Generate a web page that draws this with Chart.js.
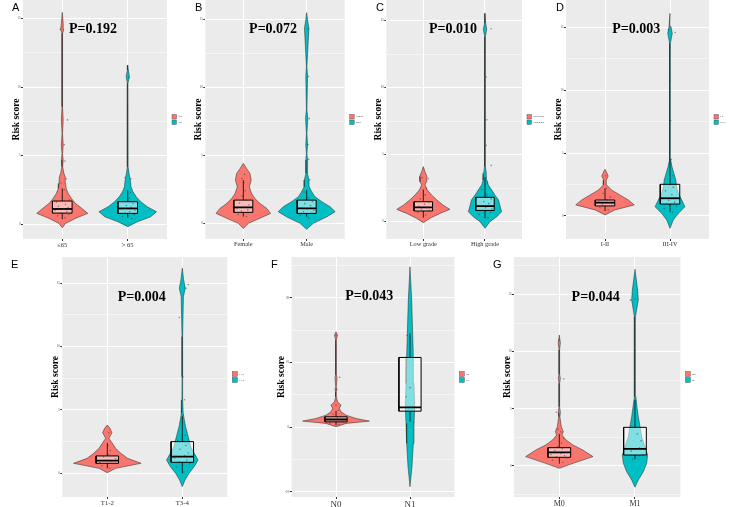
<!DOCTYPE html>
<html>
<head>
<meta charset="utf-8">
<script src="https://cdn.jsdelivr.net/npm/chart.js@4.4.1/dist/chart.umd.min.js"></script>
<style>
body { margin: 0; background: #fff; width: 729px; height: 507px; position: relative; overflow: hidden; }
canvas { position: absolute; }
.tag { position: absolute; font-family: "Liberation Sans", Arial, sans-serif; font-size: 11px; line-height: 11px; color: #000; }
</style>
</head>
<body>
<script>
// ---- data (violin half-widths are in x units) ----

// A: age
const aCats = ['≤65', '> 65'];
const aLegend = ['≤65', '>65'];
const aTicks = [0, 5, 10, 15];
const aP = 'P=0.192';
const aRedY = [-0.27, 0.05, 0.41, 0.78, 1.14, 1.51, 1.87, 2.24, 2.6, 2.97, 3.45, 3.7, 4.18, 4.67, 5.15, 5.77, 6.62, 7.59, 8.56, 13.92, 14.21, 14.65, 15.45];
const aRedW = [0, 0.05, 0.2, 0.39, 0.3, 0.2, 0.14, 0.09, 0.06, 0.05, 0.045, 0.025, 0.006, 0.014, 0.004, 0.014, 0.004, 0.014, 0.004, 0.004, 0.025, 0.014, 0];
const aTealY = [-0.19, 0.17, 0.53, 0.9, 1.26, 1.63, 1.99, 2.36, 2.72, 3.21, 3.7, 4.18, 10.27, 10.75, 11.24, 11.6];
const aTealW = [0, 0.15, 0.35, 0.44, 0.3, 0.2, 0.13, 0.08, 0.05, 0.04, 0.02, 0.006, 0.004, 0.025, 0.01, 0];
const aRedBox = [0.35, 0.8, 1.1, 1.68, 2.6];   // lo, q1, median, q3, hi
const aTealBox = [0.45, 0.78, 1.14, 1.63, 2.48];
const aRedPtY = [0.45, 0.6, 0.72, 0.8, 0.92, 1.0, 1.08, 1.2, 1.3, 1.45, 1.6, 1.75, 2.0, 2.5, 3.0, 3.3, 4.6, 5.8, 7.6, 14.2];
const aRedPtX = [0.04, -0.07, 0.1, -0.03, 0.07, -0.11, 0.02, 0.09, -0.06, 0.05, -0.09, 0.11, 0.0, 0.03, -0.02, 0.06, 0.04, 0.03, 0.08, -0.03];
const aTealPtY = [0.4, 0.55, 0.7, 0.8, 0.9, 1.0, 1.1, 1.22, 1.35, 1.5, 1.65, 1.9, 2.3, 3.3, 3.4, 10.7];
const aTealPtX = [0.06, -0.08, 0.1, -0.04, 0.03, 0.11, -0.1, 0.05, -0.02, 0.08, -0.06, 0.02, 0.04, 0.05, -0.04, 0.02];

// B: gender
const bCats = ['Female', 'Male'];
const bTicks = [0, 5, 10, 15];
const bP = 'P=0.072';
const bRedY = [-0.37, 0.0, 0.37, 0.73, 1.1, 1.47, 1.84, 2.2, 2.69, 3.18, 3.67, 4.04, 4.41];
const bRedW = [0, 0.08, 0.26, 0.43, 0.37, 0.26, 0.18, 0.13, 0.095, 0.125, 0.105, 0.05, 0];
const bTealY = [-0.44, 0.0, 0.49, 0.86, 1.22, 1.59, 1.96, 2.33, 2.69, 3.18, 3.67, 4.65, 5.14, 5.76, 6.61, 7.72, 8.33, 10.8, 11.52, 14.34, 14.95, 15.49];
const bTealW = [0, 0.105, 0.32, 0.45, 0.37, 0.24, 0.13, 0.08, 0.04, 0.037, 0.012, 0.014, 0.004, 0.014, 0.004, 0.018, 0.004, 0.014, 0.004, 0.035, 0.014, 0];
const bRedBox = [0.49, 0.81, 1.17, 1.71, 3.18];
const bTealBox = [0.49, 0.73, 1.1, 1.71, 2.45];
const bRedPtY = [0.5, 0.65, 0.8, 0.9, 1.0, 1.1, 1.2, 1.35, 1.5, 1.7, 2.0, 2.4, 3.0, 3.3, 3.6];
const bRedPtX = [0.05, -0.08, 0.1, -0.03, 0.07, -0.1, 0.02, 0.09, -0.06, 0.04, -0.02, 0.03, 0.01, -0.02, 0.02];
const bTealPtY = [0.4, 0.6, 0.75, 0.85, 0.95, 1.05, 1.15, 1.3, 1.45, 1.6, 1.9, 2.3, 3.2, 4.7, 5.8, 7.7, 10.8, 14.3];
const bTealPtX = [0.03, -0.1, 0.08, -0.05, 0.11, 0.0, -0.08, 0.06, -0.03, 0.09, 0.02, -0.04, 0.05, 0.03, 0.02, 0.04, 0.03, 0.02];

// C: grade
const cCats = ['Low grade', 'High grade'];
const cTicks = [0, 5, 10, 15];
const cP = 'P=0.010';
const cRedY = [-0.07, 0.25, 0.62, 0.92, 1.24, 1.62, 1.99, 2.36, 2.74, 2.99, 3.36, 3.73, 4.11];
const cRedW = [0, 0.11, 0.27, 0.43, 0.32, 0.22, 0.135, 0.065, 0.027, 0.054, 0.06, 0.027, 0];
const cTealY = [-0.49, 0.0, 0.37, 0.75, 1.24, 1.62, 1.99, 2.36, 2.74, 3.11, 3.61, 4.11, 5.4, 5.72, 6.0, 7.3, 7.59, 7.9, 10.5, 10.82, 11.1, 13.81, 14.35, 14.8, 15.55];
const cTealW = [0, 0.08, 0.19, 0.27, 0.24, 0.22, 0.16, 0.11, 0.054, 0.032, 0.022, 0.006, 0.004, 0.014, 0.004, 0.004, 0.014, 0.004, 0.004, 0.014, 0.004, 0.004, 0.028, 0.012, 0];
const cRedBox = [0.3, 0.8, 1.07, 1.49, 2.4];
const cTealBox = [0.25, 0.84, 1.17, 1.82, 3.3];
const cRedPtY = [0.5, 0.7, 0.85, 0.95, 1.05, 1.15, 1.3, 1.45, 1.7, 2.0, 2.5, 3.2, 3.3];
const cRedPtX = [0.04, -0.09, 0.1, -0.03, 0.06, -0.07, 0.02, 0.09, -0.05, 0.03, 0.05, 0.08, -0.02];
const cTealPtY = [0.3, 0.55, 0.7, 0.85, 0.95, 1.05, 1.2, 1.35, 1.5, 1.7, 2.0, 2.4, 2.9, 3.3, 4.2, 5.7, 7.6, 10.8, 14.4];
const cTealPtX = [0.05, -0.1, 0.09, -0.04, 0.11, 0.01, -0.08, 0.06, -0.02, 0.1, 0.03, -0.05, 0.04, 0.02, 0.1, 0.02, 0.03, 0.02, 0.1];

// D: stage
const dCats = ['I-II', 'III-IV'];
const dTicks = [0, 5, 10, 15];
const dP = 'P=0.003';
const dRedY = [0.08, 0.48, 0.88, 1.27, 1.67, 2.07, 2.47, 2.86, 3.18, 3.52, 3.71];
const dRedW = [0, 0.15, 0.45, 0.36, 0.23, 0.1, 0.026, 0.02, 0.05, 0.02, 0];
const dTealY = [-0.98, -0.32, 0.21, 0.74, 1.27, 1.8, 2.33, 2.86, 3.39, 3.92, 4.46, 5.0, 7.3, 7.6, 7.9, 10.5, 10.8, 11.1, 13.74, 14.53, 15.06, 16.12];
const dTealW = [0, 0.05, 0.13, 0.23, 0.18, 0.13, 0.1, 0.09, 0.06, 0.03, 0.01, 0.004, 0.004, 0.014, 0.004, 0.004, 0.014, 0.004, 0.006, 0.035, 0.015, 0];
const dRedBox = [0.4, 0.8, 1.06, 1.27, 2.2];
const dTealBox = [0.3, 0.95, 1.41, 2.52, 4.5];
const dRedPtY = [0.5, 0.7, 0.85, 0.95, 1.05, 1.15, 1.3, 1.5, 1.8, 2.2, 3.2];
const dRedPtX = [0.05, -0.08, 0.1, -0.04, 0.07, -0.1, 0.03, 0.08, -0.03, 0.02, 0.01];
const dTealPtY = [0.3, 0.6, 0.8, 0.95, 1.1, 1.25, 1.45, 1.7, 2.0, 2.3, 2.7, 3.2, 4.5, 7.6, 10.8, 14.6, 14.8];
const dTealPtX = [0.04, -0.09, 0.1, -0.05, 0.07, -0.02, 0.11, 0.03, -0.07, 0.05, 0.0, 0.04, 0.02, 0.01, 0.0, 0.08, -0.02];

// E: T stage
const eCats = ['T1-2', 'T3-4'];
const eTicks = [0, 5, 10, 15];
const eP = 'P=0.004';
const eRedY = [0.05, 0.39, 0.79, 1.18, 1.58, 1.97, 2.37, 2.76, 3.21, 3.55, 3.81];
const eRedW = [0, 0.11, 0.45, 0.27, 0.18, 0.11, 0.067, 0.022, 0.062, 0.036, 0];
const eTealY = [-1.05, -0.53, 0.0, 0.53, 1.05, 1.58, 2.11, 2.63, 3.16, 3.68, 4.21, 4.74, 5.79, 7.63, 10.79, 13.95, 14.61, 15.27, 16.19];
const eTealW = [0, 0.036, 0.09, 0.16, 0.21, 0.16, 0.11, 0.09, 0.067, 0.044, 0.027, 0.012, 0.005, 0.004, 0.004, 0.015, 0.04, 0.018, 0];
const eRedBox = [0.4, 0.79, 1.0, 1.37, 2.4];
const eTealBox = [0.0, 0.87, 1.31, 2.5, 4.5];
const eRedPtY = [0.4, 0.6, 0.75, 0.85, 0.95, 1.05, 1.15, 1.3, 1.5, 1.8, 2.2, 3.2];
const eRedPtX = [0.03, -0.07, 0.09, -0.1, 0.05, -0.02, 0.11, -0.05, 0.02, 0.04, 0.01, 0.02];
const eTealPtY = [0.1, 0.5, 0.75, 0.9, 1.05, 1.2, 1.4, 1.6, 1.9, 2.2, 2.6, 3.0, 4.6, 5.8, 7.6, 12.3, 14.6, 14.9];
const eTealPtX = [0.02, -0.08, 0.1, -0.04, 0.06, -0.1, 0.03, 0.08, -0.03, 0.05, -0.06, 0.04, 0.01, 0.03, 0.01, -0.04, 0.05, 0.08];

// F: N stage
const fCats = ['N0', 'N1'];
const fTicks = [-10, 0, 10, 20];
const fP = 'P=0.043';
const fRedY = [0.05, 0.57, 0.93, 1.34, 1.85, 2.37, 2.89, 3.4, 3.92, 4.69, 5.5, 5.83, 6.2, 7.68, 8.1, 13.45, 14.22, 14.73];
const fRedW = [0, 0.135, 0.45, 0.27, 0.135, 0.068, 0.045, 0.068, 0.02, 0.006, 0.004, 0.014, 0.004, 0.014, 0.004, 0.004, 0.02, 0];
const fTealY = [-9.22, -6.13, -2.52, 0.57, 3.14, 6.75, 10.87, 14.48, 19.63, 24.78];
const fTealW = [0, 0.027, 0.045, 0.054, 0.063, 0.054, 0.045, 0.036, 0.023, 0];
const fRedBox = [0.3, 0.82, 1.18, 1.6, 2.5];
const fTealBox = [0.9, 2.47, 3.04, 10.77, 14.5];
const fRedPtY = [0.4, 0.6, 0.8, 0.95, 1.1, 1.25, 1.4, 1.6, 2.0, 2.6, 3.4, 5.8, 7.7, 14.2];
const fRedPtX = [0.04, -0.08, 0.1, -0.03, 0.06, -0.1, 0.02, 0.08, -0.04, 0.03, 0.0, 0.0, 0.05, 0.0];
const fTealPtY = [0.7, 0.9, 4.7, 6.1, 14.2];
const fTealPtX = [0.05, 0.0, -0.05, 0.0, -0.04];

// G: M stage
const gCats = ['M0', 'M1'];
const gTicks = [0, 5, 10, 15];
const gP = 'P=0.044';
const gRedY = [-0.2, 0.23, 0.82, 1.4, 1.84, 2.27, 2.71, 3.0, 3.44, 4.31, 4.66, 5.19, 7.23, 7.66, 8.0, 10.14, 10.78, 11.45];
const gRedW = [0, 0.18, 0.445, 0.31, 0.18, 0.09, 0.035, 0.053, 0.026, 0.008, 0.014, 0.004, 0.004, 0.014, 0.004, 0.004, 0.014, 0];
const gTealY = [-1.86, -1.22, -0.5, 0.23, 0.96, 1.69, 2.56, 3.44, 4.31, 5.19, 6.06, 10.14, 13.05, 14.51, 15.38, 16.26, 17.19];
const gTealW = [0, 0.044, 0.11, 0.154, 0.167, 0.132, 0.088, 0.066, 0.044, 0.026, 0.012, 0.004, 0.008, 0.044, 0.035, 0.018, 0];
const gRedBox = [0.2, 0.76, 1.19, 1.6, 2.8];
const gTealBox = [0.6, 0.96, 1.49, 3.38, 5.77];
const gRedPtY = [0.3, 0.5, 0.7, 0.8, 0.9, 1.0, 1.1, 1.2, 1.35, 1.5, 1.7, 2.0, 2.4, 3.0, 3.2, 4.7, 7.6, 11.0];
const gRedPtX = [0.05, -0.09, 0.1, -0.04, 0.07, -0.11, 0.02, 0.09, -0.06, 0.04, -0.02, 0.03, 0.06, 0.02, -0.02, -0.04, 0.06, 0.0];
const gTealPtY = [0.6, 0.9, 1.0, 1.3, 1.6, 2.2, 2.8, 14.5, 14.6];
const gTealPtX = [-0.03, 0.05, 0.1, -0.05, 0.06, 0.08, 0.03, -0.06, 0.0];

// ---- drawing ----
const RED = '#F8766D';
const TEAL = '#00BFC4';
const BOXW = 0.15;

function violin(c, ys, ws) {
    const right = ys.map((y, i) => ({ x: c + ws[i], y: y }));
    const left = ys.map((y, i) => ({ x: c - ws[i], y: y })).reverse();
    return right.concat(left);
}

function boxShape(c, b) {
    return [
        { x: c - BOXW, y: b[1] }, { x: c + BOXW, y: b[1] },
        { x: c + BOXW, y: b[3] }, { x: c - BOXW, y: b[3] },
        { x: c - BOXW, y: b[1] }
    ];
}

const panelBg = {
    id: 'panelBg',
    beforeDraw(chart) {
        const { ctx, chartArea: a } = chart;
        ctx.save();
        ctx.fillStyle = '#EBEBEB';
        ctx.fillRect(a.left, a.top, a.width, a.height);
        ctx.restore();
    }
};

const sideLegend = {
    id: 'sideLegend',
    afterDraw(chart, args, o) {
        const { ctx, chartArea: a } = chart;
        const x = a.right + 5;
        const cy = (a.top + a.bottom) / 2;
        ctx.save();
        o.labels.forEach((lab, i) => {
            const y = cy - o.size - 0.5 + i * (o.size + 1);
            ctx.fillStyle = o.colors[i];
            ctx.fillRect(x, y, o.size, o.size);
            ctx.strokeStyle = '#444';
            ctx.lineWidth = 0.4;
            ctx.strokeRect(x, y, o.size, o.size);
            ctx.fillStyle = '#333';
            ctx.font = o.font + 'px "Liberation Serif"';
            ctx.textBaseline = 'middle';
            ctx.fillText(lab, x + o.size + 1.5, y + o.size / 2);
        });
        ctx.restore();
    }
};

const pText = {
    id: 'pText',
    afterDatasetsDraw(chart, args, o) {
        const { ctx, scales } = chart;
        ctx.save();
        ctx.font = 'bold 14px "Liberation Serif"';
        ctx.fillStyle = '#000';
        ctx.textAlign = 'center';
        ctx.textBaseline = 'middle';
        ctx.fillText(o.text, scales.x.getPixelForValue(o.x), scales.y.getPixelForValue(o.y));
        ctx.restore();
    }
};

function makePanel(p) {
    const cv = document.createElement('canvas');
    cv.width = p.w;
    cv.height = p.h;
    cv.style.left = p.left + 'px';
    cv.style.top = p.top + 'px';
    document.body.appendChild(cv);

    const tag = document.createElement('div');
    tag.className = 'tag';
    tag.textContent = p.letter;
    tag.style.left = p.tagX + 'px';
    tag.style.top = p.tagY + 'px';
    document.body.appendChild(tag);

    const datasets = [];
    [[1, p.red, RED], [2, p.teal, TEAL]].forEach(([c, g, col]) => {
        const b = g[2];
        datasets.push({ data: violin(c, g[0], g[1]), showLine: true, fill: 'shape', backgroundColor: col,
            borderColor: '#222', borderWidth: 0.5, pointRadius: 0, order: 4 });
        datasets.push({ data: boxShape(c, b), showLine: true, fill: 'shape', backgroundColor: 'rgba(255,255,255,0.5)',
            borderColor: '#000', borderWidth: 1, pointRadius: 0, order: 3 });
        datasets.push({ data: [{ x: c - BOXW, y: b[2] }, { x: c + BOXW, y: b[2] }], showLine: true,
            borderColor: '#000', borderWidth: 1.8, pointRadius: 0, order: 2 });
        datasets.push({ data: [{ x: c, y: b[3] }, { x: c, y: b[4] }], showLine: true,
            borderColor: '#000', borderWidth: 0.8, pointRadius: 0, order: 2 });
        datasets.push({ data: [{ x: c, y: b[0] }, { x: c, y: b[1] }], showLine: true,
            borderColor: '#000', borderWidth: 0.8, pointRadius: 0, order: 2 });
        datasets.push({ data: g[3].map((v, i) => ({ x: c + g[4][i], y: v })), showLine: false,
            pointRadius: 0.8, pointBorderWidth: 0, pointBackgroundColor: 'rgba(60,60,60,0.55)', order: 1 });
    });

    const majors = p.ticks;
    const step = majors[1] - majors[0];
    const yTicks = [];
    for (let v = majors[0] - step; v <= majors[majors.length - 1] + step; v += step / 2) {
        if (v >= p.ymin && v <= p.ymax) yTicks.push(v);
    }
    const isMajor = v => majors.includes(v);

    new Chart(cv, {
        type: 'scatter',
        data: { datasets: datasets },
        plugins: [panelBg, sideLegend, pText],
        options: {
            responsive: false,
            animation: false,
            events: [],
            layout: { autoPadding: false, padding: { top: p.padTop, right: p.padRight, left: 0, bottom: 0 } },
            plugins: {
                legend: { display: false },
                tooltip: { enabled: false },
                sideLegend: { labels: p.legend, colors: [RED, TEAL], size: p.keySize, font: 2.6 },
                pText: { text: p.pval, x: p.px, y: p.py }
            },
            scales: {
                x: {
                    type: 'linear', min: 0.4, max: 2.6,
                    afterBuildTicks: s => { s.ticks = [{ value: 1 }, { value: 2 }]; },
                    afterFit: s => { s.height = p.xh; s.paddingLeft = 0; s.paddingRight = 0; },
                    ticks: {
                        callback: (v, i) => p.cats[i],
                        font: { family: '"Liberation Serif"', size: p.xFont },
                        color: '#333', padding: p.xPad, autoSkip: false, maxRotation: 0
                    },
                    grid: { color: '#fff', lineWidth: 1, tickLength: 2, tickColor: '#333' },
                    border: { display: false }
                },
                y: {
                    type: 'linear', min: p.ymin, max: p.ymax,
                    afterBuildTicks: s => { s.ticks = yTicks.map(v => ({ value: v })); },
                    afterFit: s => { s.width = p.yw; s.paddingTop = 0; s.paddingBottom = 0; },
                    ticks: {
                        callback: v => isMajor(v) ? String(v) : '',
                        font: { family: '"Liberation Serif"', size: 3, lineHeight: 0.05 },
                        color: '#4D4D4D', padding: 0.5, autoSkip: false
                    },
                    grid: {
                        color: '#fff',
                        lineWidth: c => isMajor(c.tick.value) ? 1 : 0.5,
                        tickLength: 2,
                        tickColor: c => isMajor(c.tick.value) ? '#333' : 'rgba(0,0,0,0)'
                    },
                    border: { display: false },
                    title: {
                        display: true, text: 'Risk score', color: '#000',
                        font: { family: '"Liberation Serif"', size: 9.5, weight: 'bold' },
                        padding: { top: p.titlePad, bottom: 0 }
                    }
                }
            }
        }
    });
}

makePanel({ letter: 'A', tagX: 12, tagY: 2, left: 0, top: 0, w: 185, h: 252, padTop: 0, padRight: 18, yw: 23, xh: 13, xPad: 0, xFont: 6.5,
    titlePad: 11.3, ymin: -1.09, ymax: 16.35, ticks: aTicks, cats: aCats, legend: aLegend, keySize: 4.5,
    pval: aP, px: 1.47, py: 14.23,
    red: [aRedY, aRedW, aRedBox, aRedPtY, aRedPtX], teal: [aTealY, aTealW, aTealBox, aTealPtY, aTealPtX] });

makePanel({ letter: 'B', tagX: 195, tagY: 2, left: 185, top: 0, w: 180, h: 252, padTop: 0, padRight: 20.3, yw: 20.3, xh: 13, xPad: 0, xFont: 6.3,
    titlePad: 8.3, ymin: -1.15, ymax: 16.42, ticks: bTicks, cats: bCats, legend: bCats, keySize: 4.5,
    pval: bP, px: 1.47, py: 14.29,
    red: [bRedY, bRedW, bRedBox, bRedPtY, bRedPtX], teal: [bTealY, bTealW, bTealBox, bTealPtY, bTealPtX] });

makePanel({ letter: 'C', tagX: 376, tagY: 2, left: 365, top: 0, w: 180, h: 252, padTop: 0, padRight: 23, yw: 21.3, xh: 13, xPad: 0, xFont: 6.3,
    titlePad: 8.3, ymin: -1.29, ymax: 16.54, ticks: cTicks, cats: cCats, legend: cCats, keySize: 4.5,
    pval: cP, px: 1.48, py: 14.38,
    red: [cRedY, cRedW, cRedBox, cRedPtY, cRedPtX], teal: [cTealY, cTealW, cTealBox, cTealPtY, cTealPtX] });

makePanel({ letter: 'D', tagX: 556, tagY: 2, left: 545, top: 0, w: 184, h: 252, padTop: 0, padRight: 20, yw: 21, xh: 13, xPad: 0, xFont: 6.3,
    titlePad: 8.3, ymin: -1.83, ymax: 17.18, ticks: dTicks, cats: dCats, legend: dCats, keySize: 4.5,
    pval: dP, px: 1.48, py: 14.88,
    red: [dRedY, dRedW, dRedBox, dRedPtY, dRedPtX], teal: [dTealY, dTealW, dTealBox, dTealPtY, dTealPtX] });

makePanel({ letter: 'E', tagX: 11, tagY: 259, left: 0, top: 250, w: 250, h: 257, padTop: 7, padRight: 22.7, yw: 62.3, xh: 10, xPad: 0, xFont: 6.8,
    titlePad: 50, ymin: -1.87, ymax: 17.07, ticks: eTicks, cats: eCats, legend: eCats, keySize: 5,
    pval: eP, px: 1.46, py: 13.86,
    red: [eRedY, eRedW, eRedBox, eRedPtY, eRedPtX], teal: [eTealY, eTealW, eTealBox, eTealPtY, eTealPtX] });

makePanel({ letter: 'F', tagX: 271, tagY: 259, left: 250, top: 250, w: 230, h: 257, padTop: 7, padRight: 25.6, yw: 41.6, xh: 10, xPad: 0, xFont: 9,
    titlePad: 26, ymin: -10.8, ymax: 26.3, ticks: fTicks, cats: fCats, legend: fCats, keySize: 5,
    pval: fP, px: 1.45, py: 20.14,
    red: [fRedY, fRedW, fRedBox, fRedPtY, fRedPtX], teal: [fTealY, fTealW, fTealBox, fTealPtY, fTealPtX] });

makePanel({ letter: 'G', tagX: 493, tagY: 259, left: 480, top: 250, w: 249, h: 257, padTop: 7, padRight: 48.6, yw: 33.9, xh: 10, xPad: 0, xFont: 8,
    titlePad: 21.5, ymin: -2.71, ymax: 18.27, ticks: gTicks, cats: gCats, legend: gCats, keySize: 5,
    pval: gP, px: 1.48, py: 14.71,
    red: [gRedY, gRedW, gRedBox, gRedPtY, gRedPtX], teal: [gTealY, gTealW, gTealBox, gTealPtY, gTealPtX] });
</script>
</body>
</html>
